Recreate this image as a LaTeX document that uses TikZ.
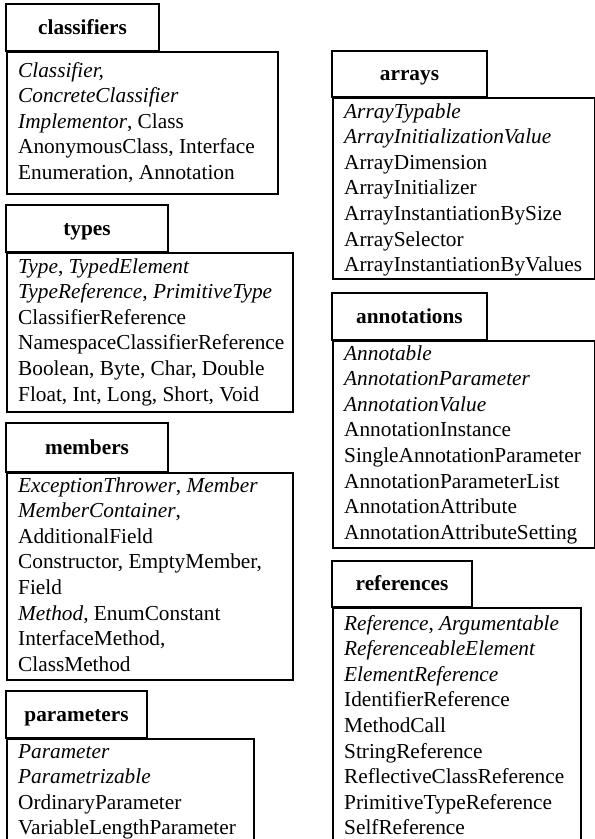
\documentclass[tikz,border=0pt]{standalone}
\usepackage{fontspec}
\setmainfont{Liberation Serif}
\newcommand{\pkgfont}{\fontsize{21.3}{25.6}\selectfont}
\tikzset{
  pkgtab/.style={draw, line width=1.9pt, inner sep=0pt, text height=15pt, text depth=2pt,
                 font=\pkgfont\bfseries},
  pkgbody/.style={draw, line width=1.9pt, anchor=north west, inner sep=0pt},
  pkgtext/.style={anchor=base west, inner sep=0pt, font=\pkgfont},
}
\newcommand{\lst}[1]{\begin{tabular}[t]{@{}l@{}}#1\end{tabular}}
\begin{document}
\begin{tikzpicture}[x=1pt,y=-1pt]
\clip (0,0) rectangle (595,839);
\fill[white] (0,0) rectangle (595,839);

% ---- left column ----
\node[pkgbody, minimum width=271pt, minimum height=142pt] (classifiersBody) at (6,51) {};
\node[pkgtab, minimum width=153pt, minimum height=47pt] (classifiersTab) at (82.5,27.5) {classifiers};
\node[pkgtext] (classifiersList) at (18,77) {\lst{%
  \textit{Classifier,}\\
  \textit{ConcreteClassifier}\\
  \textit{Implementor}, Class\\
  AnonymousClass, Interface\\
  Enumeration, Annotation}};

\node[pkgbody, minimum width=286pt, minimum height=159pt] (typesBody) at (6,252) {};
\node[pkgtab, minimum width=162pt, minimum height=47pt] (typesTab) at (87,228.5) {types};
\node[pkgtext] (typesList) at (18,273) {\lst{%
  \textit{Type}, \textit{TypedElement}\\
  \textit{TypeReference}, \textit{PrimitiveType}\\
  ClassifierReference\\
  NamespaceClassifierReference\\
  Boolean, Byte, Char, Double\\
  Float, Int, Long, Short, Void}};

\node[pkgbody, minimum width=286pt, minimum height=207pt] (membersBody) at (6,472) {};
\node[pkgtab, minimum width=162pt, minimum height=49pt] (membersTab) at (87,447.5) {members};
\node[pkgtext] (membersList) at (18,492) {\lst{%
  \textit{ExceptionThrower}, \textit{Member}\\
  \textit{MemberContainer},\\
  AdditionalField\\
  Constructor, EmptyMember,\\
  Field\\
  \textit{Method}, EnumConstant\\
  InterfaceMethod,\\
  ClassMethod}};

\node[pkgbody, minimum width=247pt, minimum height=120pt] (parametersBody) at (6,738) {};
\node[pkgtab, minimum width=141pt, minimum height=47pt] (parametersTab) at (76.5,714.5) {parameters};
\node[pkgtext] (parametersList) at (18,758) {\lst{%
  \textit{Parameter}\\
  \textit{Parametrizable}\\
  OrdinaryParameter\\
  VariableLengthParameter}};

% ---- right column ----
\node[pkgbody, minimum width=262pt, minimum height=181pt] (arraysBody) at (332,97) {};
\node[pkgtab, minimum width=155pt, minimum height=46pt] (arraysTab) at (409.5,74) {arrays};
\node[pkgtext] (arraysList) at (344,118) {\lst{%
  \textit{ArrayTypable}\\
  \textit{ArrayInitializationValue}\\
  ArrayDimension\\
  ArrayInitializer\\
  ArrayInstantiationBySize\\
  ArraySelector\\
  ArrayInstantiationByValues}};

\node[pkgbody, minimum width=262pt, minimum height=207pt] (annotationsBody) at (332,340) {};
\node[pkgtab, minimum width=155pt, minimum height=47pt] (annotationsTab) at (409.5,316.5) {annotations};
\node[pkgtext] (annotationsList) at (344,360) {\lst{%
  \textit{Annotable}\\
  \textit{AnnotationParameter}\\
  \textit{AnnotationValue}\\
  AnnotationInstance\\
  SingleAnnotationParameter\\
  AnnotationParameterList\\
  AnnotationAttribute\\
  AnnotationAttributeSetting}};

\node[pkgbody, minimum width=248pt, minimum height=250pt] (referencesBody) at (332,607) {};
\node[pkgtab, minimum width=140pt, minimum height=46pt] (referencesTab) at (402,584) {references};
\node[pkgtext] (referencesList) at (344,630) {\lst{%
  \textit{Reference}, \textit{Argumentable}\\
  \textit{ReferenceableElement}\\
  \textit{ElementReference}\\
  IdentifierReference\\
  MethodCall\\
  StringReference\\
  ReflectiveClassReference\\
  PrimitiveTypeReference\\
  SelfReference}};
\end{tikzpicture}
\end{document}
